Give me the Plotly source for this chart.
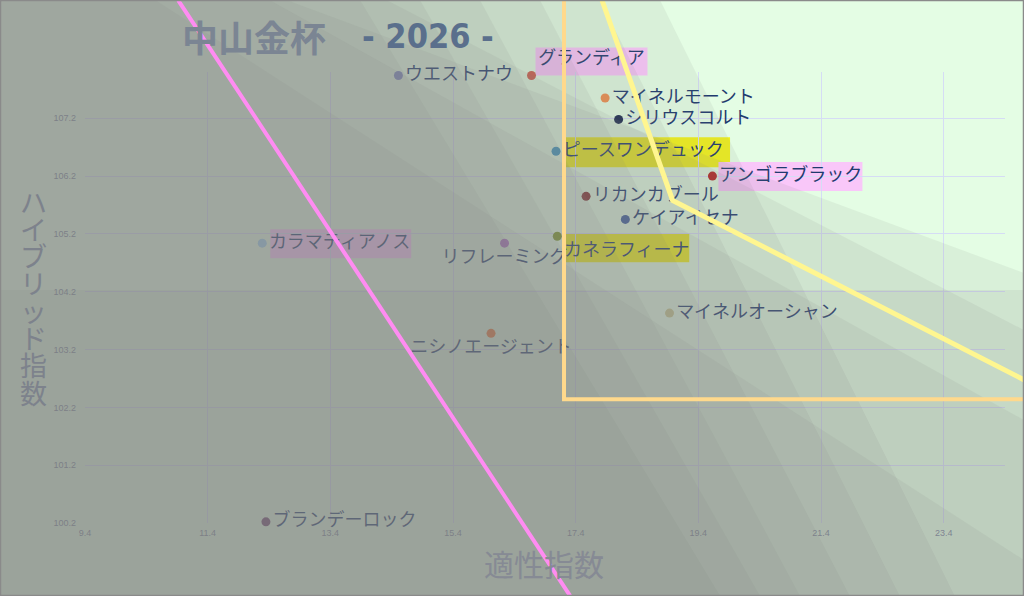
"""中山金杯 2026: aptitude index vs hybrid index scatter, via plotly."""

import plotly.graph_objects as go

# ---- data ----
horses = [
    "ウエストナウ", "グランディア", "マイネルモーント", "シリウスコルト",
    "ピースワンデュック", "アンゴラブラック", "リカンカブール", "ケイアイセナ",
    "カネラフィーナ", "カラマティアノス", "リフレーミング", "ニシノエージェント",
    "マイネルオーシャン", "ブランデーロック",
]
aptitude = [14.51, 16.68, 17.88, 18.10, 17.08, 19.63, 17.57, 18.21,
            17.10, 12.29, 16.24, 16.02, 18.93, 12.35]
hybrid = [107.94, 107.94, 107.55, 107.18, 106.63, 106.20, 105.85, 105.45,
          105.16, 105.04, 105.04, 103.48, 103.83, 100.22]
highlight = [None, "pink", None, None, "yellow", "pink", None, None,
             "yellow", "pink", None, None, None, None]

x_ticks = [9.4, 11.4, 13.4, 15.4, 17.4, 19.4, 21.4, 23.4]
y_ticks = [100.2, 101.2, 102.2, 103.2, 104.2, 105.2, 106.2, 107.2]

# guide lines, in data units
pink_x = [10.92, 17.31]
pink_y = [109.24, 98.94]
zone_x = [17.21, 25.8]
zone_y = [102.34, 109.8]
yellow_x = [17.83, 18.98, 24.72]
yellow_y = [109.24, 105.78, 102.67]

# ---- styling ----
X_RANGE = [9.4, 24.4]
Y_RANGE = [100.2, 108.0]
W, H = 1024, 596
M = dict(l=85, r=19, t=72, b=73)

marker_colors = ["#7c8cc8", "#d0604c", "#f09050", "#1c2c50", "#3d98c0",
                 "#b8221c", "#803030", "#3a5c9c", "#7c9a2a", "#9cd0ec",
                 "#b070c8", "#f07830", "#c8c890", "#704470"]
text_pos = ["middle right", "top right", "middle right", "middle right",
            "middle right", "middle right", "middle right", "middle right",
            "bottom right", "middle right", "bottom center", "bottom center",
            "middle right", "middle right"]
# highlight box offsets in pixels from the marker (x0, x1, y0, y1; y up)
box_px = {
    1: (4, 116, 0, 28),
    4: (7, 174, -16, 14),
    5: (6, 150, -15, 14),
    8: (6, 132, -26, 3),
    9: (8, 149, -15, 14),
}
box_colors = {"pink": "rgba(250,196,250,0.95)", "yellow": "rgba(240,240,18,0.95)"}


def px_x(px):
    return (px - M["l"]) / (W - M["l"] - M["r"])


def px_y(py):
    return (H - M["b"] - py) / (H - M["t"] - M["b"])


def data_x(v):
    return (v - X_RANGE[0]) / (X_RANGE[1] - X_RANGE[0])


def data_y(v):
    return (v - Y_RANGE[0]) / (Y_RANGE[1] - Y_RANGE[0])


def poly(points):
    pts = [(px_x(a), px_y(b)) for a, b in points]
    return "M " + " L ".join(f"{a:.4f},{b:.4f}" for a, b in pts) + " Z"


fig = go.Figure(go.Scatter(
    x=aptitude, y=hybrid, mode="markers+text",
    text=horses, textposition=text_pos,
    marker=dict(size=9, color=marker_colors),
    textfont=dict(family="Noto Sans CJK JP", size=18, color="#1f3a6e"),
    cliponaxis=False, hoverinfo="text",
))

shapes = []
# label highlight boxes, under the traces
for i, (x0, x1, y0, y1) in box_px.items():
    shapes.append(dict(
        type="rect", layer="between", xref="x", yref="paper",
        xsizemode="pixel", ysizemode="pixel",
        xanchor=aptitude[i], yanchor=data_y(hybrid[i]),
        x0=x0, x1=x1, y0=y0, y1=y1,
        fillcolor=box_colors[highlight[i]], line_width=0,
    ))

# translucent fan overlays darkening towards the lower left
steep = [(660, 955), (600, 900), (540, 850), (480, 800), (420, 760), (360, 720)]
shallow = [(-106, 273), (-200, 330), (290, 290), (-150, 420), (-100, 560)]
fan = "rgba(130,131,127,0.1)"
for xt, xb in steep:
    shapes.append(dict(type="path", layer="above", xref="paper", yref="paper",
                       path=poly([(xt - (xb - xt) * 5 / 596, -5),
                                  (xb + (xb - xt) * 5 / 596, 601), (-5, 601), (-5, -5)]),
                       fillcolor=fan, line_width=0))
for yl, yr in shallow:
    shapes.append(dict(type="path", layer="above", xref="paper", yref="paper",
                       path=poly([(-5, yl - (yr - yl) * 5 / 1024),
                                  (1029, yr + (yr - yl) * 5 / 1024), (1029, 601), (-5, 601)]),
                       fillcolor=fan, line_width=0))

# guides drawn on top
shapes.append(dict(type="line", layer="above", xref="paper", yref="paper",
                   x0=data_x(pink_x[0]), y0=data_y(pink_y[0]),
                   x1=data_x(pink_x[1]), y1=data_y(pink_y[1]),
                   line=dict(color="#ff8cf2", width=4)))
shapes.append(dict(type="rect", layer="above", xref="paper", yref="paper",
                   x0=data_x(zone_x[0]), y0=data_y(zone_y[0]),
                   x1=data_x(zone_x[1]), y1=data_y(zone_y[1]),
                   line=dict(color="#ffd98c", width=4)))
yl_path = "M " + " L ".join(f"{data_x(a):.4f},{data_y(b):.4f}" for a, b in zip(yellow_x, yellow_y))
shapes.append(dict(type="path", layer="above", xref="paper", yref="paper",
                   path=yl_path, line=dict(color="#fff690", width=5)))
# outer frame
shapes.append(dict(type="rect", layer="above", xref="paper", yref="paper",
                   x0=px_x(0.5), y0=px_y(0.5), x1=px_x(1023.5), y1=px_y(595.5),
                   line=dict(color="#8a8a8a", width=1.5)))

ann = dict(xref="paper", yref="paper", showarrow=False, xanchor="center", yanchor="middle")
annotations = [
    dict(ann, text="<b>中山金杯</b>", x=px_x(254), y=px_y(36),
         font=dict(family="Noto Sans CJK JP", size=36, color="#7b8593")),
    dict(ann, text="<b>- 2026 -</b>", x=px_x(428), y=px_y(36),
         font=dict(family="Liberation Sans Narrow, DejaVu Sans Condensed, Noto Sans", size=34,
                   color="#5a6f8c")),
    dict(ann, text="適性指数", x=px_x(544), y=px_y(563),
         font=dict(family="Noto Sans CJK JP", size=30, color="#868a94")),
]
for k, ch in enumerate("ハイブリッド指数"):
    annotations.append(dict(ann, text=ch, x=px_x(33), y=px_y(201 + 27.3 * k),
                            font=dict(family="Noto Sans CJK JP", size=27, color="#7d828c")))

tickfont = dict(family="Liberation Sans Narrow, Arial Narrow, sans-serif", size=9, color="#7f8aa0")
fig.update_layout(
    width=W, height=H, margin=M,
    paper_bgcolor="#e4fde4", plot_bgcolor="#e4fde4",
    showlegend=False,
    xaxis=dict(range=X_RANGE, tickvals=x_ticks, ticktext=[f"{v:.1f}" for v in x_ticks],
               showgrid=True, gridcolor="#d5dcf5", gridwidth=1, zeroline=False,
               showline=False, tickfont=tickfont, fixedrange=True, ticklabelstandoff=3),
    yaxis=dict(range=Y_RANGE, tickvals=y_ticks, ticktext=[f"{v:.1f}" for v in y_ticks],
               showgrid=True, gridcolor="#d5dcf5", gridwidth=1, zeroline=False,
               showline=False, tickfont=tickfont, fixedrange=True, ticklabelstandoff=8),
    shapes=shapes,
    annotations=annotations,
)

fig.write_html("out.html", config={"displayModeBar": False},
               post_script="document.body.style.margin='0';")
